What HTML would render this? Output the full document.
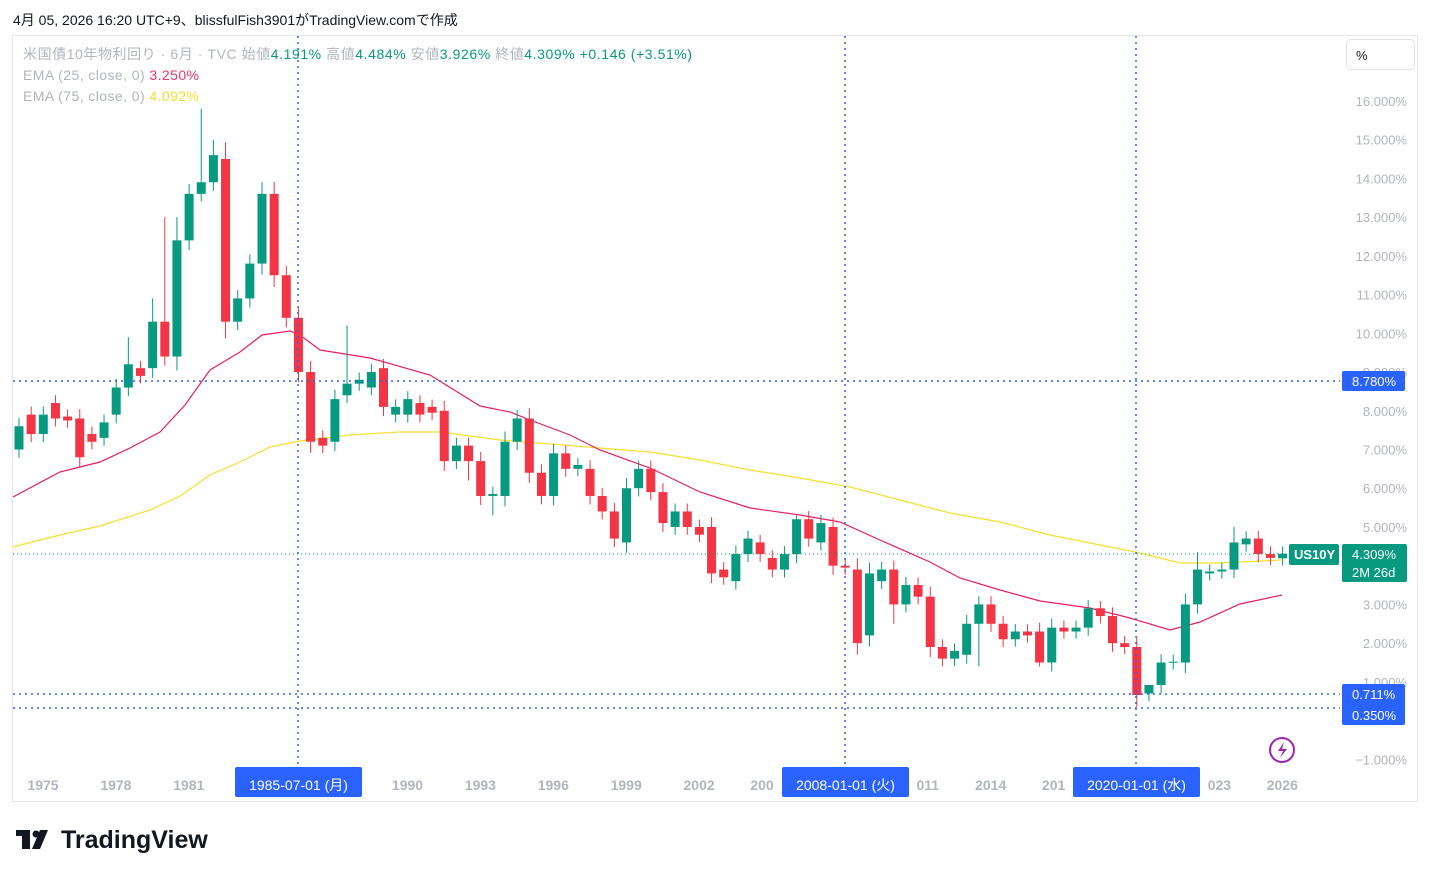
<!DOCTYPE html>
<html><head><meta charset="utf-8"><style>
body{margin:0;background:#fff;width:1431px;height:877px;overflow:hidden;font-family:"Liberation Sans","Noto Sans CJK JP",sans-serif}
</style></head><body>
<svg id="s" width="1431" height="877" xmlns="http://www.w3.org/2000/svg" style="position:absolute;left:0;top:0;font-family:'Liberation Sans','Noto Sans CJK JP',sans-serif">
<text x="13" y="25" font-size="14" fill="#131722">4月 05, 2026 16:20 UTC+9、blissfulFish3901がTradingView.comで作成</text>
<rect x="12.5" y="35.5" width="1405" height="766" fill="none" stroke="#e8e8ea"/>
<rect x="1346.5" y="39.5" width="68" height="30" rx="4" fill="#fff" stroke="#e0e3eb"/>
<text x="1356" y="60" font-size="13" fill="#131722">%</text>
<g id="grid"></g>
<g id="ema"></g>
<g id="c"></g>
<g id="ax" font-size="13" fill="#b2b5be"></g>
<g stroke="#2962ff" stroke-width="1.5" stroke-dasharray="2,4">
<line x1="298" y1="36" x2="298" y2="770"/><line x1="845" y1="36" x2="845" y2="770"/><line x1="1136" y1="36" x2="1136" y2="770"/>
<line x1="13" y1="381" x2="1340" y2="381"/><line x1="13" y1="694" x2="1340" y2="694"/><line x1="13" y1="708" x2="1340" y2="708"/>
</g>
<line x1="13" y1="554" x2="1290" y2="554" stroke="#089981" stroke-width="1" stroke-dasharray="1,3"/>
<text x="23" y="59" font-size="14" fill="#b2b5be" textLength="669" lengthAdjust="spacing">米国債10年物利回り · 6月 · TVC  始値<tspan fill="#089981">4.191%</tspan>  高値<tspan fill="#089981">4.484%</tspan>  安値<tspan fill="#089981">3.926%</tspan>  終値<tspan fill="#089981">4.309%</tspan>  <tspan fill="#089981">+0.146 (+3.51%)</tspan></text>
<text x="23" y="80" font-size="14" fill="#b2b5be" textLength="176" lengthAdjust="spacing">EMA (25, close, 0)  <tspan fill="#f23668">3.250%</tspan></text>
<text x="23" y="101" font-size="14" fill="#b2b5be" textLength="176" lengthAdjust="spacing">EMA (75, close, 0)  <tspan fill="#f7e02f">4.092%</tspan></text>
<rect x="1289" y="544" width="50" height="21" rx="2" fill="#089981"/>
<text x="1294" y="559" font-size="13" fill="#fff" font-weight="bold">US10Y</text>
<rect x="1342" y="544" width="65" height="38" rx="2" fill="#089981"/>
<text x="1352" y="559" font-size="13" fill="#fff">4.309%</text>
<text x="1352" y="577" font-size="13" fill="#fff">2M 26d</text>
<rect x="1342" y="371" width="63" height="20" rx="2" fill="#2962ff"/><text x="1352" y="386" font-size="13" fill="#fff">8.780%</text>
<rect x="1342" y="684" width="63" height="41" rx="2" fill="#2962ff"/><text x="1352" y="699" font-size="13" fill="#fff">0.711%</text><text x="1352" y="720" font-size="13" fill="#fff">0.350%</text>
<rect x="235" y="767" width="127" height="30" rx="2" fill="#2962ff"/><text x="298.5" y="790" font-size="14" fill="#fff" text-anchor="middle">1985-07-01 (月)</text>
<rect x="782" y="767" width="127" height="30" rx="2" fill="#2962ff"/><text x="845.5" y="790" font-size="14" fill="#fff" text-anchor="middle">2008-01-01 (火)</text>
<rect x="1073" y="767" width="127" height="30" rx="2" fill="#2962ff"/><text x="1136.5" y="790" font-size="14" fill="#fff" text-anchor="middle">2020-01-01 (水)</text>
<circle cx="1282" cy="750" r="12" fill="none" stroke="#9c27b0" stroke-width="2"/>
<path d="M1284 742 L1278 751 L1283 751 L1280 758 L1287 749 L1282 749 Z" fill="#9c27b0"/>
<g fill="#131722"><rect x="16" y="830" width="14" height="6"/><rect x="22" y="830" width="8" height="19"/><circle cx="36" cy="834" r="3.5"/><path d="M40 830 L48 830 L40 849 L32 849 Z"/></g>
<text x="61" y="848" font-size="25" font-weight="bold" fill="#131722">TradingView</text>
</svg>
<script>
const Y=v=>720.6-38.73*v, X=i=>19+i*12.15;
const ns="http://www.w3.org/2000/svg";
function el(p,t,a,txt){const e=document.createElementNS(ns,t);for(const k in a)e.setAttribute(k,a[k]);if(txt)e.textContent=txt;document.getElementById(p).appendChild(e);return e;}
for(let v=-1;v<=16;v++){if(v==0||v==9||v==4||v==1)continue;el('ax','text',{x:1407,y:Y(v)+5,'text-anchor':'end'},(v<0?'−1':v)+'.000%');}
el('ax','text',{x:1407,y:Y(9)+5,'text-anchor':'end'},'9.000%');
el('ax','text',{x:1407,y:Y(1)+5,'text-anchor':'end'},'1.000%');
const yrs=[1975,1978,1981,1990,1993,1996,1999,2002,2005,2011,2014,2017,2023,2026];
yrs.forEach(y=>{let x=43+(y-1975)*24.3;let t=String(y);if(y==2005){t='200';x-=10}if(y==2011){t='011';x+=10}if(y==2017){t='201';x-=10}if(y==2023){t='023';x+=10}el('ax','text',{x:x,y:790,'text-anchor':'middle','font-size':14,'font-weight':'bold'},t);});
const oc=[[7.0,7.6],[7.9,7.4],[7.4,7.9],[8.2,7.8],[7.85,7.75],[7.8,6.8],[7.4,7.2],[7.3,7.7],[7.9,8.6],[8.6,9.2],[9.1,8.9],[9.1,10.3],[10.3,9.4],[9.4,12.4],[12.4,13.6],[13.6,13.9],[13.9,14.6],[14.5,10.3],[10.3,10.9],[10.9,11.8],[11.8,13.6],[13.6,11.5],[11.5,10.4],[10.4,9.0],[9.0,7.2],[7.3,7.1],[7.2,8.3],[8.4,8.7],[8.7,8.8],[8.6,9.0],[9.1,8.1],[7.9,8.1],[7.9,8.3],[8.2,7.9],[8.1,7.95],[8.0,6.7],[6.7,7.1],[7.1,6.7],[6.7,5.8],[5.8,5.85],[5.8,7.2],[7.2,7.8],[7.8,6.4],[6.4,5.8],[5.8,6.9],[6.9,6.5],[6.5,6.6],[6.5,5.8],[5.8,5.4],[5.4,4.7],[4.6,6.0],[6.0,6.5],[6.5,5.9],[5.9,5.1],[5.0,5.4],[5.4,5.0],[5.0,4.8],[5.0,3.8],[3.9,3.7],[3.6,4.3],[4.3,4.7],[4.6,4.3],[4.2,3.9],[3.9,4.3],[4.3,5.2],[5.2,4.7],[4.6,5.1],[5.0,4.0],[4.0,3.95],[3.9,2.0],[2.2,3.8],[3.6,3.9],[3.9,3.0],[3.0,3.5],[3.5,3.2],[3.2,1.9],[1.9,1.6],[1.6,1.8],[1.7,2.5],[2.5,3.0],[3.0,2.5],[2.5,2.1],[2.1,2.3],[2.3,2.2],[2.3,1.5],[1.5,2.4],[2.4,2.3],[2.3,2.4],[2.4,2.9],[2.9,2.7],[2.7,2.0],[2.0,1.9],[1.9,0.66],[0.7,0.92],[0.92,1.5],[1.5,1.52],[1.5,3.0],[3.0,3.9],[3.8,3.85],[3.85,3.9],[3.9,4.6],[4.55,4.7],[4.7,4.3],[4.3,4.2],[4.19,4.31]];
const hiX={15:15.8,16:15.0,13:13.0,12:13.0,20:13.9,9:9.9,11:10.9,27:10.2,64:5.3,97:4.35,100:5.0,102:4.9,103:4.5,93:0.5};
const loX={92:0.35,93:0.5,37:6.2,39:5.3,79:1.4,84:1.4,72:2.5};
oc.forEach((d,i)=>{const[o,c]=d;const up=c>=o;const col=up?'#089981':'#f23645';const x=X(i);
let h=hiX[i]!==undefined?Math.max(hiX[i],o,c):Math.max(o,c)+0.18+Math.abs(o-c)*0.06;
let l=loX[i]!==undefined?loX[i]:Math.min(o,c)-0.18-Math.abs(o-c)*0.06;
el('c','line',{x1:x,x2:x,y1:Y(h),y2:Y(l),stroke:col,'stroke-width':1});
const t=Y(Math.max(o,c)),b=Y(Math.min(o,c));el('c','rect',{x:x-4.5,y:t,width:9,height:Math.max(1,b-t),fill:col});});
const e25=[[13,497],[60,472],[100,462],[130,448],[160,432],[185,405],[210,370],[240,352],[262,335],[290,331],[300,335],[320,350],[370,358],[430,375],[480,406],[510,412],[530,420],[570,435],[600,450],[650,468],[700,492],[750,508],[800,515],[840,522],[880,540],[930,562],[960,578],[1000,590],[1040,601],[1090,608],[1130,618],[1170,630],[1200,622],[1240,604],[1282,595]];
const e75=[[13,547],[60,535],[100,526],[150,510],[180,496],[210,475],[240,462],[270,447],[300,441],[350,435],[400,432],[440,432],[500,440],[600,448],[650,452],[700,460],[750,470],[800,478],[850,487],[900,500],[950,513],[1000,522],[1050,535],[1100,545],[1140,553],[1180,563],[1220,563],[1282,560]];
el('ema','polyline',{points:e75.join(' '),fill:'none',stroke:'#f7e02f','stroke-width':1.2});
el('ema','polyline',{points:e25.join(' '),fill:'none',stroke:'#e91e63','stroke-width':1.2});
</script>
</body></html>
